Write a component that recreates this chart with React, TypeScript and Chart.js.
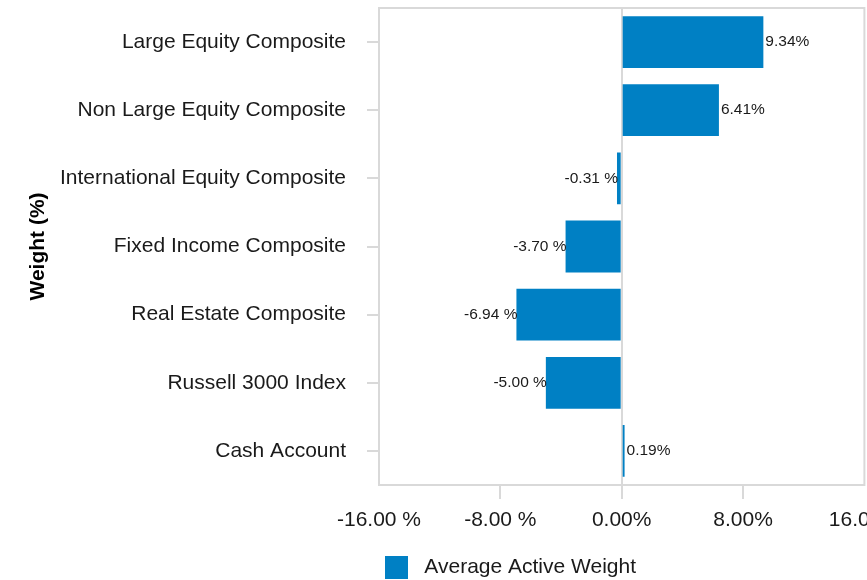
import React, { useEffect, useRef } from 'react';
import { Chart, registerables } from 'chart.js';

Chart.register(...registerables);

const categories = [
  'Large Equity Composite',
  'Non Large Equity Composite',
  'International Equity Composite',
  'Fixed Income Composite',
  'Real Estate Composite',
  'Russell 3000 Index',
  'Cash Account',
];
const activeWeights = [9.34, 6.41, -0.31, -3.7, -6.94, -5.0, 0.19];
const xTickValues = [-16, -8, 0, 8, 16];
const seriesName = 'Average Active Weight';
const axisTitle = 'Weight (%)';

const FAMILY = '"Liberation Sans", Arial, sans-serif';
const BAR = '#0080c4';
const GRAY = '#d9d9d9';
const TEXT = '#1a1a1a';

const fmt = (v: number) => (v < 0 ? `${v.toFixed(2)} %` : `${v.toFixed(2)}%`);

const framePlugin = {
  id: 'frame',
  beforeDatasetsDraw(chart: any) {
    const { ctx, chartArea } = chart;
    ctx.save();
    ctx.strokeStyle = GRAY;
    ctx.lineWidth = 2;
    ctx.strokeRect(chartArea.left, chartArea.top, chartArea.right - chartArea.left, chartArea.bottom - chartArea.top);
    ctx.restore();
  },
};

const valueLabelPlugin = {
  id: 'valueLabels',
  afterDatasetsDraw(chart: any) {
    const ctx = chart.ctx;
    const meta = chart.getDatasetMeta(0);
    const data = chart.data.datasets[0].data as number[];
    ctx.save();
    ctx.font = `15.5px ${FAMILY}`;
    ctx.fillStyle = TEXT;
    ctx.textBaseline = 'middle';
    meta.data.forEach((el: any, i: number) => {
      const v = data[i];
      const { x, y } = el.getProps(['x', 'y'], true);
      if (v >= 0) {
        ctx.textAlign = 'left';
        ctx.fillText(fmt(v), x + 2, y);
      } else {
        ctx.textAlign = 'right';
        ctx.fillText(fmt(v), x + 1, y);
      }
    });
    ctx.restore();
  },
};

export default function App() {
  const ref = useRef<HTMLCanvasElement>(null);

  useEffect(() => {
    if (!ref.current) return;
    const chart = new Chart(ref.current, {
      type: 'bar',
      data: {
        labels: categories,
        datasets: [
          {
            label: seriesName,
            data: activeWeights,
            backgroundColor: BAR,
            borderWidth: 0,
            barPercentage: 0.76,
            categoryPercentage: 1,
          },
        ],
      },
      options: {
        indexAxis: 'y',
        responsive: false,
        animation: false,
        devicePixelRatio: 1,
        layout: { padding: { top: 8, left: 0, right: 0, bottom: 0 } },
        plugins: {
          tooltip: { enabled: false },
          legend: {
            position: 'bottom',
            align: 'start',
            fullSize: false,
            labels: {
              boxWidth: 23,
              boxHeight: 23,
              padding: 6,
              color: TEXT,
              font: { size: 21, family: FAMILY },
              generateLabels: (c: any) => {
                const items = (Chart.defaults.plugins.legend.labels as any).generateLabels(c);
                items.forEach((it: any) => {
                  it.text = ' ' + it.text;
                  it.lineWidth = 0;
                });
                return items;
              },
            },
          },
        },
        scales: {
          x: {
            type: 'linear',
            min: -16,
            max: 16,
            afterBuildTicks: (s: any) => {
              s.ticks = xTickValues.map((value) => ({ value }));
            },
            afterFit: (s: any) => {
              s.height = 65;
            },
            border: { display: false },
            grid: {
              color: (c: any) => (c.tick && c.tick.value === 0 ? GRAY : 'rgba(0,0,0,0)'),
              tickColor: (c: any) => (c.tick && Math.abs(c.tick.value) === 16 ? 'rgba(0,0,0,0)' : GRAY),
              lineWidth: 2,
              tickLength: 14,
            },
            ticks: {
              padding: 9,
              color: TEXT,
              font: { size: 21, family: FAMILY },
              maxRotation: 0,
              autoSkip: false,
              callback: (v: any) => fmt(Number(v)),
            },
          },
          y: {
            type: 'category',
            afterFit: (s: any) => {
              s.width = 379;
              s.paddingTop = 0;
              s.paddingBottom = 0;
            },
            border: { display: false },
            grid: {
              offset: false,
              drawOnChartArea: false,
              tickLength: 12,
              tickColor: GRAY,
              lineWidth: 2,
            },
            ticks: {
              padding: 21,
              color: TEXT,
              font: { size: 21, family: FAMILY },
            },
            title: {
              display: true,
              text: axisTitle,
              color: '#000000',
              font: { size: 21, weight: 'bold', family: FAMILY },
              padding: { top: 26, bottom: 0 },
            },
          },
        },
      },
      plugins: [framePlugin, valueLabelPlugin],
    } as any);
    return () => chart.destroy();
  }, []);

  return (
    <div
      style={{
        position: 'absolute',
        left: 0,
        top: 0,
        width: 867,
        height: 580,
        overflow: 'hidden',
        background: '#ffffff',
      }}
    >
      <canvas ref={ref} width={909} height={589} style={{ display: 'block' }} />
    </div>
  );
}
